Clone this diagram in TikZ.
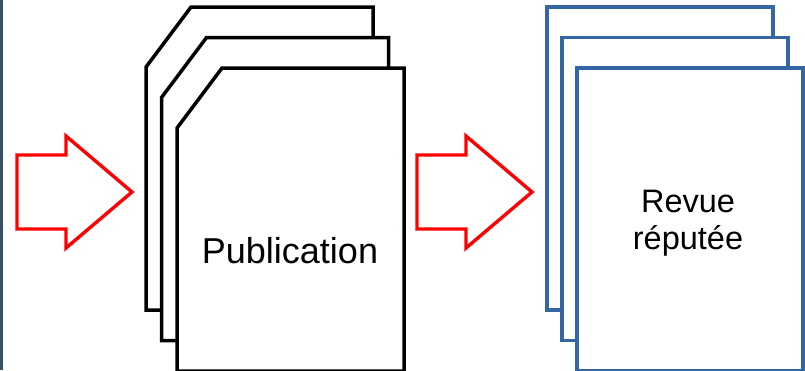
\documentclass[tikz,border=0pt]{standalone}
\usepackage{fontspec}
\setmainfont{Liberation Sans}
\definecolor{docblue}{RGB}{52,101,164}
\definecolor{stripc}{RGB}{55,80,105}
\begin{document}
\begin{tikzpicture}[x=1pt,y=-1pt,
  blackdoc/.style={draw=black,line width=3.5pt,fill=white},
  bluedoc/.style={draw=docblue,line width=3.4pt,fill=white},
  redarrow/.style={draw=red,line width=3.4pt,fill=white},
  lbl/.style={font=\fontsize{36}{42}\selectfont,inner sep=0pt,anchor=base},
  lbl2/.style={font=\fontsize{32.5}{37}\selectfont,inner sep=0pt,align=center}]
\useasboundingbox (0,0) rectangle (805,370);
\fill[white] (0,0) rectangle (805,370);
\fill[stripc] (0,0) rectangle (3,370);
% red arrows
\draw[redarrow] (17,155) -- (66,155) -- (66,136) -- (132,192) -- (66,248) -- (66,229) -- (17,229) -- cycle;
\draw[redarrow] (417,155) -- (466,155) -- (466,136) -- (532,192) -- (466,248) -- (466,229) -- (417,229) -- cycle;
% black documents
\foreach \i in {0,1,2}{
  \begin{scope}[shift={(15.5*\i,30.5*\i)}]
    \draw[blackdoc] (146,67) -- (191,7) -- (373,7) -- (373,310) -- (146,310) -- cycle;
  \end{scope}
}
% blue documents
\foreach \i in {0,1,2}{
  \begin{scope}[shift={(15*\i,30.5*\i)}]
    \draw[bluedoc] (547,7) rectangle (773,310);
  \end{scope}
}
\node[lbl] (pub) at (290,263) {Publication};
\node[lbl2] (rev) at (688,223) {Revue\\réputée};
\end{tikzpicture}
\end{document}
